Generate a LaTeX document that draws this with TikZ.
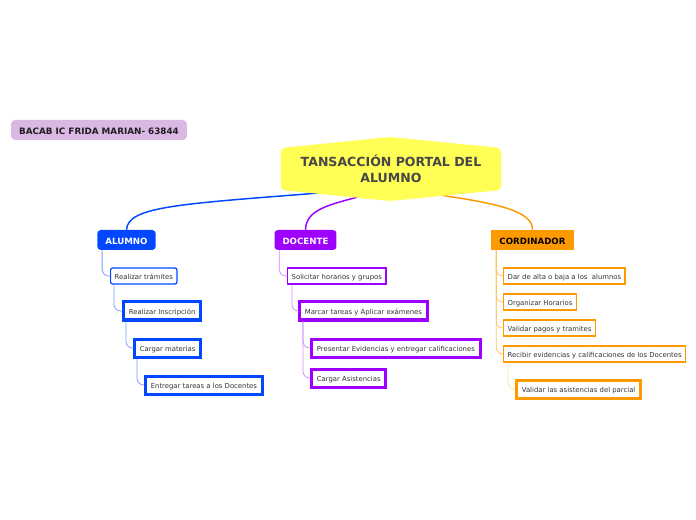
\documentclass[tikz,border=0pt]{standalone}
\usepackage{fontspec}
\setmainfont{DejaVu Sans}
\definecolor{azul}{HTML}{0047FF}
\definecolor{azulclaro}{HTML}{7B9BFF}
\definecolor{morado}{HTML}{9D00FF}
\definecolor{moradoclaro}{HTML}{D08BFF}
\definecolor{naranja}{HTML}{FF9900}
\definecolor{naranjaclaro}{HTML}{FFC266}
\definecolor{naranjapalido}{HTML}{FFE2A8}
\definecolor{amarillo}{HTML}{FFFF55}
\definecolor{lila}{HTML}{D9B8E3}
\definecolor{gris}{HTML}{333333}
\begin{document}
\begin{tikzpicture}[x=0.75pt,y=-0.75pt,
    every node/.style={font=\fontsize{5.15}{6}\selectfont, text=gris, inner ysep=0pt},
    hoja/.style={draw, fill=white, anchor=west, inner xsep=3pt, minimum height=12pt, rounded corners=1.5pt,
        text height=0.72em, text depth=0.22em},
    gruesa/.style={hoja, line width=2.25pt, inner xsep=4pt, rounded corners=0pt, minimum height=13.5pt},
    jefe/.style={minimum height=15pt, inner xsep=6pt, text=white, font=\fontsize{6.5}{7}\selectfont\bfseries,
        text height=0.72em, text depth=0.1em},
    rama/.style={line width=0.6pt, rounded corners=5pt}]
    \useasboundingbox (0,0) rectangle (696,520);

    % arranques del tema central
    \coordinate (TB) at (332,192);
    \coordinate (TP) at (358,197);
    \coordinate (TO) at (440,195);

    \node[jefe, fill=azul, rounded corners=2.5pt] (alumno) at (126.5,240) {ALUMNO};
    \node[jefe, fill=morado, rounded corners=2.5pt] (docente) at (305.5,240) {DOCENTE};
    \node[jefe, fill=naranja, text=black] (cordinador) at (532.5,240) {CORDINADOR};

    \draw[azul, line width=1.1pt] (TB) .. controls (180,204) and (128,206) .. (alumno.north);
    \draw[morado, line width=1.1pt] (TP) .. controls (328,205) and (306,210) .. (docente.north);
    \draw[naranja, line width=1.1pt] (TO) .. controls (492,203) and (533,210) .. (cordinador.north);

    \fill[amarillo, rounded corners=3pt] (281,148) -- (390,137) -- (501,148) -- (501,190) -- (390,201) -- (281,190) -- cycle;
    \node[align=center, text=gris!90, font=\fontsize{9.4}{12}\selectfont\bfseries] (tema) at (391,169) {TANSACCIÓN PORTAL DEL\\ALUMNO};

    \node[fill=lila, rounded corners=3pt, minimum height=15pt, inner xsep=6pt, text=black!85!lila,
        text height=0.72em, text depth=0.1em,
        font=\fontsize{6.6}{7}\selectfont\bfseries] (alumna) at (99,130) {BACAB IC FRIDA MARIAN- 63844};

    % ALUMNO
    \node[hoja, draw=azul, line width=0.9pt] (A1) at (110,276) {Realizar trámites};
    \node[gruesa, draw=azul] (A2) at (122,311) {Realizar Inscripción};
    \node[gruesa, draw=azul] (A3) at (133,348) {Cargar materias};
    \node[gruesa, draw=azul] (A4) at (144,385) {Entregar tareas a los Docentes};

    \draw[rama, azulclaro] ([xshift=3.75pt]alumno.south west) |- (A1.west);
    \draw[rama, azulclaro] ([xshift=3pt]A1.south west) |- (A2.west);
    \draw[rama, azulclaro] ([xshift=3pt]A2.south west) |- (A3.west);
    \draw[rama, azulclaro] ([xshift=3pt]A3.south west) |- (A4.west);

    % DOCENTE
    \node[hoja, draw=morado, line width=1.1pt, rounded corners=0pt] (D1) at (287,276) {Solicitar horarios y grupos};
    \node[gruesa, draw=morado] (D2) at (298,311) {Marcar tareas y Aplicar exámenes};
    \node[gruesa, draw=morado] (D3) at (310,348) {Presentar Evidencias y entregar calificaciones};
    \node[gruesa, draw=morado] (D4) at (310,378) {Cargar Asistencias};

    \draw[rama, moradoclaro] ([xshift=3.75pt]docente.south west) |- (D1.west);
    \draw[rama, moradoclaro] ([xshift=3.75pt]D1.south west) |- (D2.west);
    \draw[rama, moradoclaro] ([xshift=3.75pt]D2.south west) |- (D3.west);
    \draw[rama, moradoclaro] ([xshift=3.75pt]D2.south west) |- (D4.west);

    % CORDINADOR
    \node[hoja, draw=naranja, line width=1.1pt, rounded corners=0pt] (C1) at (503,276) {Dar de alta o baja a los~~alumnos};
    \node[hoja, draw=naranja, line width=1.1pt, rounded corners=0pt] (C2) at (503,302) {Organizar Horarios};
    \node[hoja, draw=naranja, line width=1.1pt, rounded corners=0pt] (C3) at (503,328) {Validar pagos y tramites};
    \node[hoja, draw=naranja, line width=1.1pt, rounded corners=0pt] (C4) at (503,354) {Recibir evidencias y calificaciones de los Docentes};
    \node[gruesa, draw=naranja] (C5) at (515,389) {Validar las asistencias del parcial};

    \draw[rama, naranjaclaro] ([xshift=3.75pt]cordinador.south west) |- (C1.west);
    \draw[rama, naranjaclaro] ([xshift=3.75pt]cordinador.south west) |- (C2.west);
    \draw[rama, naranjaclaro] ([xshift=3.75pt]cordinador.south west) |- (C3.west);
    \draw[rama, naranjaclaro] ([xshift=3.75pt]cordinador.south west) |- (C4.west);
    \draw[rama, naranjapalido] ([xshift=3.75pt]C4.south west) |- (C5.west);
\end{tikzpicture}
\end{document}
